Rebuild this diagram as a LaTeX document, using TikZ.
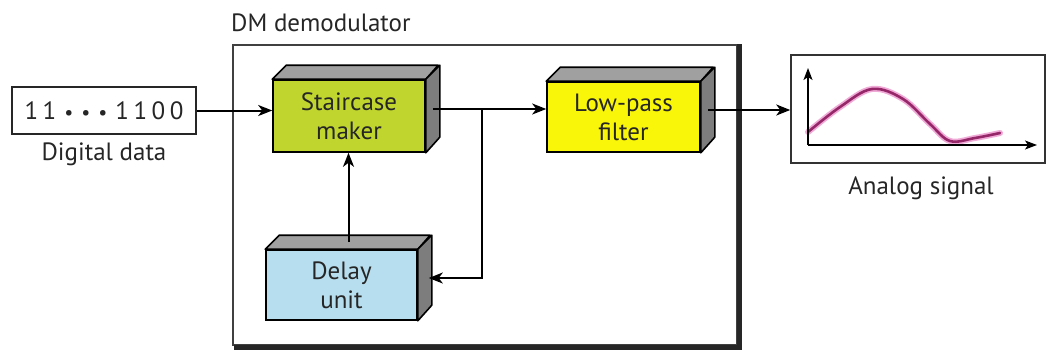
\documentclass[tikz,border=0pt]{standalone}
\usepackage{fontspec}
\setmainfont{PT Sans}
\newfontfamily\spacedfont[LetterSpace=18]{PT Sans}
\usetikzlibrary{arrows.meta}
\definecolor{stgreen}{RGB}{192,214,46}
\definecolor{lpyellow}{RGB}{250,246,10}
\definecolor{dlblue}{RGB}{182,222,238}
\definecolor{topgray}{RGB}{160,160,160}
\definecolor{sidegray}{RGB}{125,125,125}
\definecolor{curvecol}{RGB}{150,40,105}
\definecolor{curvehalo}{RGB}{240,170,215}
\newcommand\boxfaces[3]{%
  \draw[faceline, fill=topgray] (#1.north west) -- ++(14,-14) -- ++(#2,0) -- (#1.north east) -- cycle;
  \draw[faceline, fill=sidegray] (#1.north east) -- ++(14,-14) -- ++(0,#3) -- (#1.south east) -- cycle;
}
\begin{document}
\begin{tikzpicture}[x=1pt,y=-1pt,
  blk/.style={draw=black, line width=1.6pt, inner sep=0pt, align=center,
    font=\fontsize{25}{29}\selectfont, text=black!85},
  faceline/.style={draw=black, line width=1.6pt, line join=round},
  wire/.style={line width=2pt},
  conn/.style={line width=2pt, -{Stealth[length=14pt,width=11pt,inset=4pt]}},
  axis/.style={line width=1.7pt, -{Stealth[length=12pt,width=9pt,inset=3pt]}},
  lbl/.style={font=\fontsize{25}{28}\selectfont, text=black!85, inner sep=0pt}]
\useasboundingbox (0,0) rectangle (1048,351);
\fill[white] (0,0) rectangle (1048,351);

% outer DM box
\node[draw=black!75, line width=1.3pt, minimum width=504pt, minimum height=300pt, inner sep=0pt] (dm) at (485,195) {};
\draw[line width=4.5pt, black!85] ([shift={(2,0)}]dm.north east) -- ([shift={(2,2)}]dm.south east) -- ([shift={(2,2)}]dm.south west);
\node[lbl, anchor=base west] (dmlbl) at (231,31) {DM demodulator};

% input
\node[draw=black!85, line width=1.5pt, minimum width=184pt, minimum height=47pt, inner sep=0pt,
  font=\fontsize{25}{28}\spacedfont, text=black!85] (dd) at (104,110.5)
  {11\hspace{8pt}\fontsize{20}{20}\selectfont•\hspace{8pt}•\hspace{8pt}•\hspace{8pt}\fontsize{25}{28}\selectfont 1100};
\node[lbl, anchor=base] (ddlbl) at (104,160) {Digital data};

% blocks
\node[blk, fill=stgreen, minimum width=152pt, minimum height=72pt] (st) at (349,116) {Staircase\\maker};
\boxfaces{st}{152}{72}
\node[blk, fill=lpyellow, minimum width=153pt, minimum height=70pt] (lp) at (623.5,117) {Low-pass\\filter};
\boxfaces{lp}{153}{70}
\node[blk, fill=dlblue, minimum width=151pt, minimum height=70pt] (dl) at (341.5,285) {Delay\\unit};
\boxfaces{dl}{151}{70}

% analog output box
\node[draw=black!80, line width=1.5pt, minimum width=254pt, minimum height=108pt, inner sep=0pt] (an) at (918,109) {};
\node[lbl, anchor=base] (anlbl) at (921,194) {Analog signal};
\coordinate (o) at (808,145);
\coordinate (ytip) at (808,68);
\coordinate (xtip) at (1037,145);
\draw[line width=6pt, curvehalo, line cap=round] plot[smooth, tension=0.6] coordinates {(808,132) (840,107) (872,89) (903,99) (930,124) (950,141) (975,138) (1000,133)};
\draw[line width=2.6pt, curvecol, line cap=round] plot[smooth, tension=0.6] coordinates {(808,132) (840,107) (872,89) (903,99) (930,124) (950,141) (975,138) (1000,133)};
\draw[axis] (o) -- (ytip);
\draw[axis] (o) -- (xtip);

% connection points
\coordinate (stS) at ([shift={(7,-7)}]st.east);
\coordinate (lpS) at ([shift={(7,-7)}]lp.east);
\coordinate (dlS) at ([shift={(11,-7)}]dl.east);
\coordinate (dlT) at ([shift={(7,-7)}]dl.north);
\coordinate (j) at (482,109);

% connectors
\draw[conn] (dd.east) -- (dd.east -| st.west);
\draw[wire] (stS) -- (j);
\draw[conn] (j) -- (j -| lp.west);
\draw[conn] (j) |- (dlS);
\draw[conn] (dlT) -- (dlT |- st.south);
\draw[conn] (lpS) -- (lpS -| an.west);
\end{tikzpicture}
\end{document}
